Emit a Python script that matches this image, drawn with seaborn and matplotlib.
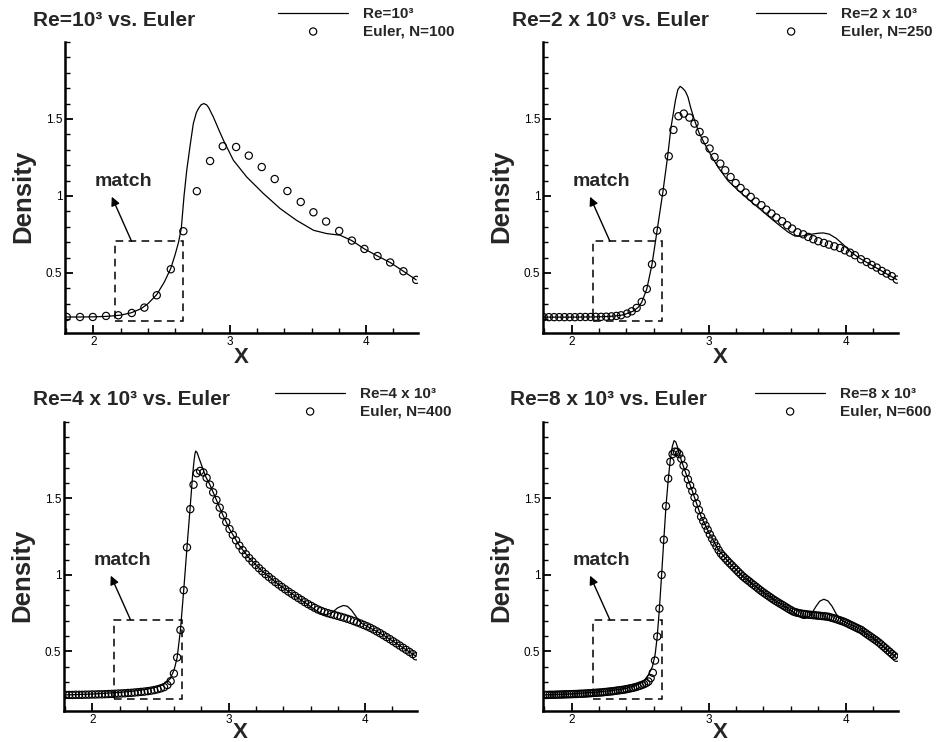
import numpy as np
import pandas as pd
import matplotlib
matplotlib.use("Agg")
import matplotlib.pyplot as plt
from matplotlib.patches import Rectangle
from matplotlib.ticker import MultipleLocator, FormatStrFormatter
import seaborn as sns

# ---------------- Re = 1e3 vs Euler N=100 ----------------
x_re1 = [1.792, 1.90, 2.00, 2.10, 2.20, 2.28, 2.35, 2.40, 2.465, 2.52, 2.568, 2.60,
         2.625, 2.645, 2.665, 2.685, 2.71, 2.733, 2.755, 2.77, 2.79, 2.81, 2.83,
         2.845, 2.88, 2.92, 2.954, 3.027, 3.125, 3.247, 3.37, 3.49, 3.615, 3.71,
         3.81, 3.896, 3.988, 4.084, 4.177, 4.274, 4.368]
rho_re1 = [0.214, 0.214, 0.215, 0.218, 0.226, 0.242, 0.268, 0.300, 0.360, 0.440, 0.530, 0.620,
           0.700, 0.790, 1.000, 1.167, 1.330, 1.470, 1.540, 1.567, 1.592, 1.600, 1.592,
           1.575, 1.513, 1.430, 1.362, 1.232, 1.123, 1.016, 0.918, 0.842, 0.777, 0.756,
           0.745, 0.710, 0.656, 0.610, 0.568, 0.511, 0.455]
x_eu100 = [1.805, 1.902, 1.996, 2.093, 2.183, 2.282, 2.374, 2.465, 2.568, 2.660, 2.759,
           2.856, 2.949, 3.047, 3.140, 3.235, 3.330, 3.423, 3.521, 3.614, 3.707, 3.803,
           3.896, 3.988, 4.084, 4.177, 4.274, 4.368]
rho_eu100 = [0.214, 0.214, 0.214, 0.221, 0.225, 0.240, 0.275, 0.355, 0.524, 0.771, 1.031,
             1.227, 1.323, 1.318, 1.262, 1.188, 1.110, 1.032, 0.961, 0.894, 0.834, 0.773,
             0.710, 0.656, 0.610, 0.568, 0.511, 0.455]

# ---------------- Re = 2e3 vs Euler N=250 ----------------
x_re2 = [1.792, 2.00, 2.20, 2.30, 2.38, 2.45, 2.49, 2.512, 2.549, 2.587, 2.624, 2.666,
         2.700, 2.726, 2.758, 2.775, 2.792, 2.81, 2.83, 2.849, 2.87, 2.897, 2.93, 2.97,
         3.02, 3.068, 3.14, 3.214, 3.30, 3.385, 3.46, 3.531, 3.58, 3.628, 3.67, 3.71,
         3.76, 3.80, 3.836, 3.88, 3.93, 3.98, 4.043, 4.10, 4.20, 4.30, 4.372]
rho_re2 = [0.213, 0.213, 0.215, 0.219, 0.228, 0.252, 0.280, 0.310, 0.396, 0.556, 0.775, 1.024,
           1.250, 1.448, 1.621, 1.690, 1.712, 1.700, 1.680, 1.643, 1.570, 1.492, 1.410, 1.340,
           1.260, 1.188, 1.100, 1.037, 0.970, 0.907, 0.850, 0.799, 0.765, 0.740, 0.738, 0.745,
           0.753, 0.758, 0.760, 0.752, 0.725, 0.686, 0.632, 0.596, 0.545, 0.493, 0.457]
x_eu250 = [1.797, 1.835, 1.873, 1.911, 1.949, 1.987, 2.025, 2.063, 2.101, 2.139, 2.177,
           2.215, 2.253, 2.291, 2.327, 2.361, 2.405, 2.439, 2.475, 2.512, 2.549, 2.587,
           2.624, 2.666, 2.709, 2.743, 2.780, 2.819, 2.860, 2.897, 2.934, 2.970, 3.007,
           3.043, 3.085, 3.121, 3.160, 3.197, 3.233, 3.270, 3.307, 3.343, 3.385, 3.421,
           3.458, 3.494, 3.536, 3.573, 3.609, 3.648, 3.690, 3.726, 3.763, 3.800, 3.841,
           3.877, 3.917, 3.958, 3.994, 4.031, 4.067, 4.111, 4.153, 4.189, 4.226, 4.263,
           4.299, 4.336, 4.372]
rho_eu250 = [0.213, 0.213, 0.213, 0.213, 0.213, 0.213, 0.213, 0.214, 0.214, 0.214, 0.215,
             0.215, 0.216, 0.218, 0.221, 0.225, 0.236, 0.251, 0.273, 0.312, 0.396, 0.556,
             0.775, 1.024, 1.258, 1.429, 1.518, 1.535, 1.509, 1.470, 1.416, 1.362, 1.308,
             1.253, 1.210, 1.167, 1.123, 1.084, 1.052, 1.022, 0.994, 0.964, 0.940, 0.911,
             0.886, 0.860, 0.836, 0.810, 0.788, 0.764, 0.751, 0.734, 0.719, 0.706, 0.695,
             0.684, 0.673, 0.662, 0.647, 0.632, 0.615, 0.589, 0.571, 0.552, 0.535, 0.513,
             0.496, 0.479, 0.457]

# ---------------- Re = 4e3 vs Euler N=400 ----------------
x_re4 = [1.792, 2.00, 2.20, 2.30, 2.40, 2.48, 2.53, 2.57, 2.60, 2.622, 2.646, 2.670,
         2.694, 2.718, 2.735, 2.745, 2.752, 2.758, 2.768, 2.78, 2.80, 2.83, 2.862,
         2.91, 2.958, 3.006, 3.078, 3.15, 3.246, 3.366, 3.486, 3.582, 3.63, 3.68,
         3.72, 3.76, 3.80, 3.84, 3.87, 3.90, 3.94, 3.97, 4.014, 4.11, 4.206, 4.302, 4.374]
rho_re4 = [0.215, 0.221, 0.232, 0.240, 0.252, 0.268, 0.290, 0.320, 0.380, 0.460, 0.640, 0.900,
           1.180, 1.450, 1.650, 1.740, 1.790, 1.810, 1.800, 1.770, 1.720, 1.645, 1.590,
           1.490, 1.390, 1.300, 1.192, 1.110, 1.024, 0.937, 0.863, 0.805, 0.775, 0.745,
           0.740, 0.755, 0.785, 0.800, 0.795, 0.770, 0.720, 0.685, 0.664, 0.619, 0.566,
           0.510, 0.468]
x_eu400 = [1.806, 1.830, 1.854, 1.878, 1.902, 1.926, 1.950, 1.974, 1.998, 2.022,
           2.046, 2.070, 2.094, 2.118, 2.142, 2.166, 2.190, 2.214, 2.238, 2.262,
           2.286, 2.310, 2.334, 2.358, 2.382, 2.406, 2.430, 2.454, 2.478, 2.502,
           2.526, 2.550, 2.574, 2.598, 2.622, 2.646, 2.670, 2.694, 2.718, 2.742,
           2.766, 2.790, 2.814, 2.838, 2.862, 2.886, 2.910, 2.934, 2.958, 2.982,
           3.006, 3.030, 3.054, 3.078, 3.102, 3.126, 3.150, 3.174, 3.198, 3.222,
           3.246, 3.270, 3.294, 3.318, 3.342, 3.366, 3.390, 3.414, 3.438, 3.462,
           3.486, 3.510, 3.534, 3.558, 3.582, 3.606, 3.630, 3.654, 3.678, 3.702,
           3.726, 3.750, 3.774, 3.798, 3.822, 3.846, 3.870, 3.894, 3.918, 3.942,
           3.966, 3.990, 4.014, 4.038, 4.062, 4.086, 4.110, 4.134, 4.158, 4.182,
           4.206, 4.230, 4.254, 4.278, 4.302, 4.326, 4.350, 4.374]
rho_eu400 = [0.215, 0.215, 0.215, 0.216, 0.216, 0.216, 0.217, 0.217, 0.218, 0.218,
             0.219, 0.219, 0.220, 0.221, 0.222, 0.223, 0.224, 0.225, 0.226, 0.228,
             0.229, 0.231, 0.233, 0.235, 0.237, 0.240, 0.243, 0.247, 0.252, 0.258,
             0.266, 0.280, 0.305, 0.355, 0.460, 0.640, 0.900, 1.180, 1.430, 1.590,
             1.665, 1.680, 1.670, 1.635, 1.590, 1.540, 1.490, 1.440, 1.390, 1.345,
             1.300, 1.262, 1.226, 1.192, 1.162, 1.135, 1.110, 1.087, 1.065, 1.044,
             1.024, 1.005, 0.987, 0.970, 0.953, 0.937, 0.921, 0.906, 0.891, 0.877,
             0.863, 0.849, 0.836, 0.822, 0.809, 0.797, 0.785, 0.774, 0.765, 0.757,
             0.750, 0.744, 0.738, 0.732, 0.726, 0.720, 0.713, 0.706, 0.698, 0.690,
             0.682, 0.673, 0.664, 0.654, 0.643, 0.631, 0.619, 0.606, 0.593, 0.580,
             0.566, 0.552, 0.538, 0.524, 0.510, 0.496, 0.482, 0.468]

# ---------------- Re = 8e3 vs Euler N=600 ----------------
x_re8 = [1.792, 2.00, 2.20, 2.30, 2.40, 2.49, 2.53, 2.56, 2.59, 2.61, 2.625, 2.641,
         2.657, 2.673, 2.689, 2.705, 2.72, 2.735, 2.748, 2.76, 2.775, 2.79, 2.81, 2.833,
         2.881, 2.945, 3.009, 3.073, 3.153, 3.249, 3.377, 3.489, 3.569, 3.617, 3.65,
         3.68, 3.70, 3.725, 3.75, 3.78, 3.81, 3.84, 3.87, 3.90, 3.93, 3.96, 3.985,
         4.05, 4.113, 4.177, 4.241, 4.305, 4.369]
rho_re8 = [0.215, 0.222, 0.235, 0.245, 0.258, 0.285, 0.310, 0.345, 0.400, 0.480, 0.597, 0.780,
           1.000, 1.230, 1.450, 1.620, 1.750, 1.840, 1.878, 1.870, 1.830, 1.780, 1.725, 1.667,
           1.548, 1.381, 1.265, 1.162, 1.077, 0.991, 0.900, 0.830, 0.786, 0.758, 0.735,
           0.718, 0.715, 0.722, 0.745, 0.790, 0.828, 0.841, 0.830, 0.795, 0.745, 0.712, 0.694,
           0.667, 0.640, 0.599, 0.558, 0.508, 0.458]
x_eu600 = [1.809, 1.825, 1.841, 1.857, 1.873, 1.889, 1.905, 1.921, 1.937, 1.953,
           1.969, 1.985, 2.001, 2.017, 2.033, 2.049, 2.065, 2.081, 2.097, 2.113,
           2.129, 2.145, 2.161, 2.177, 2.193, 2.209, 2.225, 2.241, 2.257, 2.273,
           2.289, 2.305, 2.321, 2.337, 2.353, 2.369, 2.385, 2.401, 2.417, 2.433,
           2.449, 2.465, 2.481, 2.497, 2.513, 2.529, 2.545, 2.561, 2.577, 2.593,
           2.609, 2.625, 2.641, 2.657, 2.673, 2.689, 2.705, 2.721, 2.737, 2.753,
           2.769, 2.785, 2.801, 2.817, 2.833, 2.849, 2.865, 2.881, 2.897, 2.913,
           2.929, 2.945, 2.961, 2.977, 2.993, 3.009, 3.025, 3.041, 3.057, 3.073,
           3.089, 3.105, 3.121, 3.137, 3.153, 3.169, 3.185, 3.201, 3.217, 3.233,
           3.249, 3.265, 3.281, 3.297, 3.313, 3.329, 3.345, 3.361, 3.377, 3.393,
           3.409, 3.425, 3.441, 3.457, 3.473, 3.489, 3.505, 3.521, 3.537, 3.553,
           3.569, 3.585, 3.601, 3.617, 3.633, 3.649, 3.665, 3.681, 3.697, 3.713,
           3.729, 3.745, 3.761, 3.777, 3.793, 3.809, 3.825, 3.841, 3.857, 3.873,
           3.889, 3.905, 3.921, 3.937, 3.953, 3.969, 3.985, 4.001, 4.017, 4.033,
           4.049, 4.065, 4.081, 4.097, 4.113, 4.129, 4.145, 4.161, 4.177, 4.193,
           4.209, 4.225, 4.241, 4.257, 4.273, 4.289, 4.305, 4.321, 4.337, 4.353,
           4.369]
rho_eu600 = [0.215, 0.215, 0.216, 0.216, 0.216, 0.217, 0.217, 0.218, 0.218, 0.219,
             0.219, 0.220, 0.220, 0.221, 0.221, 0.222, 0.223, 0.223, 0.224, 0.225,
             0.226, 0.227, 0.228, 0.229, 0.230, 0.231, 0.232, 0.234, 0.235, 0.237,
             0.238, 0.240, 0.242, 0.244, 0.246, 0.248, 0.250, 0.253, 0.256, 0.259,
             0.262, 0.266, 0.270, 0.275, 0.280, 0.286, 0.293, 0.303, 0.325, 0.360,
             0.440, 0.597, 0.780, 1.000, 1.230, 1.450, 1.630, 1.740, 1.790, 1.806,
             1.805, 1.790, 1.760, 1.715, 1.667, 1.625, 1.585, 1.548, 1.507, 1.467,
             1.425, 1.381, 1.352, 1.323, 1.295, 1.265, 1.237, 1.212, 1.187, 1.162,
             1.140, 1.124, 1.108, 1.092, 1.077, 1.063, 1.048, 1.034, 1.019, 1.005,
             0.991, 0.979, 0.968, 0.957, 0.945, 0.934, 0.923, 0.911, 0.900, 0.889,
             0.879, 0.869, 0.859, 0.849, 0.839, 0.830, 0.821, 0.812, 0.804, 0.795,
             0.786, 0.777, 0.769, 0.761, 0.756, 0.752, 0.749, 0.746, 0.744, 0.742,
             0.740, 0.739, 0.737, 0.736, 0.734, 0.733, 0.731, 0.730, 0.728, 0.726,
             0.722, 0.718, 0.714, 0.709, 0.704, 0.699, 0.694, 0.688, 0.681, 0.674,
             0.667, 0.660, 0.653, 0.646, 0.640, 0.629, 0.619, 0.609, 0.599, 0.589,
             0.579, 0.569, 0.558, 0.546, 0.533, 0.521, 0.508, 0.496, 0.483, 0.471,
             0.458]

titles = ["Re=10³ vs. Euler", "Re=2 x 10³ vs. Euler",
          "Re=4 x 10³ vs. Euler", "Re=8 x 10³ vs. Euler"]
ns_labels = ["Re=10³", "Re=2 x 10³", "Re=4 x 10³", "Re=8 x 10³"]
eu_labels = ["Euler, N=100", "Euler, N=250", "Euler, N=400", "Euler, N=600"]
x_ticks = [2, 3, 4]
y_ticks = [0.5, 1, 1.5]

# matched region box and annotation (data coordinates)
box_x0, box_x1 = 2.16, 2.66
box_y0, box_y1 = 0.19, 0.706
arrow_from = (2.28, 0.706)
arrow_to = (2.135, 0.995)
match_xy = (2.22, 1.095)

sns.set_theme(style="ticks")
plt.rcParams['font.family'] = ['Liberation Sans', 'DejaVu Sans']
plt.rcParams['axes.facecolor'] = 'white'
plt.rcParams['figure.facecolor'] = 'white'

W, H = 947, 742
fig = plt.figure(figsize=(W / 100, H / 100), dpi=100)

# axes rectangles in pixels: left, top, right, bottom
rects = [(65, 42, 418, 333), (543, 42, 898, 333),
         (64, 422, 417, 711), (543, 422, 898, 711)]
title_pos = [(33, 20), (512, 20), (33, 400), (510, 400)]
legend_pos = [(278, 23), (756, 23), (275, 403), (755, 403)]
xlabel_baseline = [363, 363, 738, 738]

series = [(x_re1, rho_re1, x_eu100, rho_eu100),
          (x_re2, rho_re2, x_eu250, rho_eu250),
          (x_re4, rho_re4, x_eu400, rho_eu400),
          (x_re8, rho_re8, x_eu600, rho_eu600)]

for k in range(4):
    l, t, r, b = rects[k]
    ax = fig.add_axes([l / W, 1 - b / H, (r - l) / W, (b - t) / H])
    xn, yn, xe, ye = series[k]
    ns_df = pd.DataFrame({"x": xn, "rho": yn})
    eu_df = pd.DataFrame({"x": xe, "rho": ye})

    sns.lineplot(data=ns_df, x="x", y="rho", ax=ax, color="black", linewidth=0.9,
                 sort=False, estimator=None, legend=False)
    sns.scatterplot(data=eu_df, x="x", y="rho", ax=ax, marker="o", s=27,
                    facecolors="none", edgecolors="black", linewidths=0.85,
                    legend=False, zorder=3)

    ax.set_xlim(1.792, 4.381)
    ax.set_ylim(0.11, 2.0)

    ax.set_xticks(x_ticks)
    ax.set_yticks(y_ticks)
    ax.xaxis.set_minor_locator(MultipleLocator(0.2))
    ax.yaxis.set_minor_locator(MultipleLocator(0.1))
    ax.xaxis.set_major_formatter(FormatStrFormatter('%g'))
    ax.yaxis.set_major_formatter(FormatStrFormatter('%g'))
    ax.tick_params(which='major', direction='in', length=6, width=1.3,
                   labelsize=8.5, color='black', labelcolor='black')
    ax.tick_params(which='minor', direction='in', length=3.5, width=1.0, color='black')
    ax.tick_params(axis='y', which='major', pad=2)
    ax.tick_params(axis='x', which='major', pad=2)
    for side in ['top', 'right']:
        ax.spines[side].set_visible(False)
    for side in ['left', 'bottom']:
        ax.spines[side].set_linewidth(1.8)
        ax.spines[side].set_color('black')

    ax.set_xlabel("X", fontsize=16, fontweight='bold')
    ax.set_ylabel("Density", fontsize=18.5, fontweight='bold')
    ax.xaxis.set_label_coords(0.5, -(xlabel_baseline[k] - b) / (b - t))
    ax.xaxis.label.set_va('baseline')
    ax.yaxis.set_label_coords(-0.119, 0.47)
    ax.yaxis.label.set_va('center')

    ax.add_patch(Rectangle((box_x0, box_y0), box_x1 - box_x0, box_y1 - box_y0,
                           fill=False, linestyle=(0, (5, 3.5)), linewidth=1.1,
                           edgecolor='black', zorder=2))
    ax.annotate("", xy=arrow_to, xytext=arrow_from,
                arrowprops=dict(arrowstyle='-|>', color='black', lw=1.0,
                                mutation_scale=13, shrinkA=0, shrinkB=0))
    ax.text(*match_xy, "match", fontsize=14, fontweight='bold',
            ha='center', va='center')

    tx, ty = title_pos[k]
    fig.text(tx / W, 1 - ty / H, titles[k], fontsize=15, fontweight='bold',
             ha='left', va='center')

    handles = [ax.get_lines()[0], ax.collections[0]]
    lx, ly = legend_pos[k]
    ax.legend(handles, [ns_labels[k], eu_labels[k]], loc='center left',
              bbox_to_anchor=(lx / W, 1 - ly / H), bbox_transform=fig.transFigure,
              frameon=False, borderpad=0, borderaxespad=0, handlelength=4.6,
              handletextpad=0.95, labelspacing=0.2, scatterpoints=1,
              prop={'weight': 'bold', 'size': 11})

fig.savefig("out.png", dpi=100)
